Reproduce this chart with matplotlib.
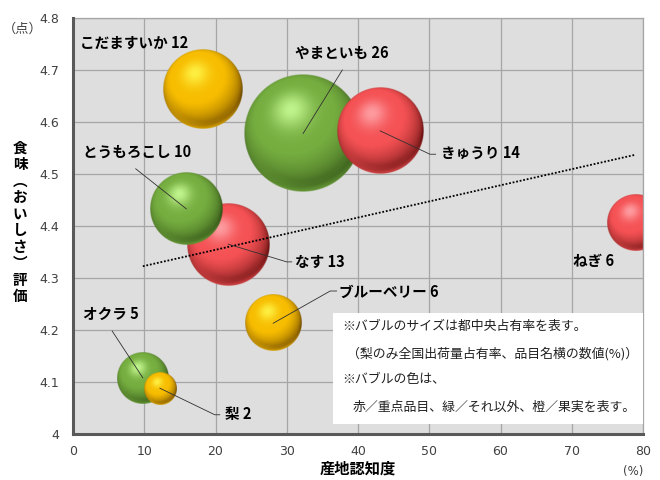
import numpy as np
import matplotlib
matplotlib.use('Agg')
import matplotlib.pyplot as plt
from matplotlib.patches import Rectangle

plt.rcParams['font.family'] = ['Noto Sans CJK JP', 'DejaVu Sans']

# data: 産地認知度(%), 食味評価(点), バブルサイズ(%), 色区分
names = ['こだますいか', 'やまといも', 'きゅうり', 'とうもろこし', 'なす',
         'ブルーベリー', 'ねぎ', 'オクラ', '梨']
recog = [18.2, 32.3, 43.1, 15.9, 21.8, 28.1, 78.9, 9.8, 12.2]
taste = [4.663, 4.578, 4.583, 4.433, 4.365, 4.213, 4.406, 4.108, 4.088]
share = [12, 26, 14, 10, 13, 6, 6, 5, 2]
kind = ['fruit', 'other', 'key', 'other', 'key', 'fruit', 'key', 'other', 'fruit']

# label layout: (text x, text y, leader points)
label_pos = {
    'こだますいか': (1.0, 4.752, None),
    'やまといも': (31.2, 4.733, [(37.8, 4.700)]),
    'きゅうり': (51.6, 4.540, [(50.1, 4.538), (50.9, 4.538)]),
    'とうもろこし': (1.4, 4.542, [(8.8, 4.510)]),
    'なす': (31.2, 4.331, [(30.0, 4.331), (30.7, 4.331)]),
    'ブルーベリー': (37.3, 4.273, [(36.1, 4.275), (37.0, 4.275)]),
    'ねぎ': (70.2, 4.333, None),
    'オクラ': (1.4, 4.231, [(5.5, 4.198)]),
    '梨': (21.3, 4.038, [(19.9, 4.037), (20.6, 4.037)]),
}

# base, highlight, shadow
colors = {
    'key': ((0.96, 0.32, 0.33), (1.0, 0.66, 0.68), (0.42, 0.07, 0.07)),
    'other': ((0.46, 0.68, 0.25), (0.80, 1.0, 0.60), (0.20, 0.33, 0.09)),
    'fruit': ((0.97, 0.74, 0.0), (1.0, 0.97, 0.30), (0.45, 0.30, 0.0)),
}

notes = ['※バブルのサイズは都中央占有率を表す。',
         '（梨のみ全国出荷量占有率、品目名横の数値(%)）',
         '※バブルの色は、',
         '赤／重点品目、緑／それ以外、橙／果実を表す。']


def sphere(base, light, dark, n=240):
    t = np.linspace(-1, 1, n)
    u, v = np.meshgrid(t, t)
    rr = u ** 2 + v ** 2
    r = np.sqrt(rr)
    z = np.sqrt(np.clip(1 - rr, 0, 1))
    L = np.array([-0.2, 0.4, 0.89])
    L = L / np.linalg.norm(L)
    d = np.clip(u * L[0] + v * L[1] + z * L[2], 0, 1)
    base = np.array(base)
    light = np.array(light)
    dark = np.array(dark)
    k = np.clip(d / 0.72, 0, 1) ** 0.75
    col = dark + (base - dark) * k[..., None]
    spec = 0.85 * d ** 18
    col = col + (light - col) * spec[..., None]
    # reflected light on the bottom rim
    rim = np.clip(-v * 1.3 - 0.2, 0, 1) * np.clip((r - 0.8) / 0.18, 0, 1)
    col = col + (base - col) * (0.7 * rim)[..., None]
    alpha = np.clip((1 - r) * n / 2, 0, 1)
    return np.dstack([np.clip(col, 0, 1), alpha])


fig = plt.figure(figsize=(6.6, 4.8), dpi=100)
ax = fig.add_axes([73 / 660, 46 / 480, 570 / 660, 416 / 480])
ax.set_facecolor('#dedede')
ax.set_xlim(0, 80)
ax.set_ylim(4.0, 4.8)
ax.set_xticks(np.arange(0, 81, 10))
yt = np.round(np.arange(4.0, 4.81, 0.1), 1)
ax.set_yticks(yt)
ax.set_yticklabels(['4' if v == 4.0 else '%.1f' % v for v in yt])
ax.tick_params(length=0, labelsize=9, labelcolor='#404040')
ax.tick_params(axis='y', pad=10)
ax.tick_params(axis='x', pad=8)
for lab in ax.get_xticklabels() + ax.get_yticklabels():
    lab.set_family('DejaVu Sans')
ax.grid(True, color='#a6a6a6', lw=0.9)
ax.set_axisbelow(True)
for s in ['top', 'right']:
    ax.spines[s].set_color('#a6a6a6')
    ax.spines[s].set_linewidth(0.9)
for s in ['left', 'bottom']:
    ax.spines[s].set_color('#595959')
    ax.spines[s].set_linewidth(2.2)
    ax.spines[s].set_zorder(6)

bb = ax.get_window_extent()
sx = bb.width / 80
sy = bb.height / 0.8

order = np.argsort(share)[::-1]
for i in order:
    rpx = 11.5 * np.sqrt(share[i])
    rx, ry = rpx / sx, rpx / sy
    img = sphere(*colors[kind[i]])
    ax.imshow(img, extent=(recog[i] - rx, recog[i] + rx, taste[i] - ry, taste[i] + ry),
              origin='lower', aspect='auto', interpolation='bilinear', zorder=2)

# trend line
p = np.polyfit(recog, taste, 1)
xt = np.array([min(recog), max(recog)])
ax.plot(xt, np.polyval(p, xt), color='black', lw=1.3, ls=(0, (1, 1)), zorder=3)

# labels
for i, nm in enumerate(names):
    tx, ty, pts = label_pos[nm]
    ax.text(tx, ty, '%s %d' % (nm, share[i]), fontsize=10.5, fontweight='bold',
            ha='left', va='center', color='black', zorder=5)
    if pts:
        xs = [recog[i]] + [q[0] for q in pts]
        ys = [taste[i]] + [q[1] for q in pts]
        ax.plot(xs, ys, color='#303030', lw=0.6, zorder=4)

# notes box
ax.add_patch(Rectangle((36.5, 4.019), 43.5, 0.214, facecolor='white', edgecolor='none', zorder=4))
note_x = [37.75, 38.4, 37.75, 39.3]
note_y = [4.206, 4.154, 4.104, 4.052]
for t, nx, ny in zip(notes, note_x, note_y):
    ax.text(nx, ny, t, fontsize=9.3, ha='left', va='center', color='#202020', zorder=5)

ax.set_xlim(0, 80)
ax.set_ylim(4.0, 4.8)

# axis titles
fig.text(20 / 660, 1 - 222 / 480, '\n'.join('食味︵おいしさ︶評価'), fontsize=10.5,
         fontweight='bold', ha='center', va='center', linespacing=1.04)
fig.text(358 / 660, 1 - 469 / 480, '産地認知度', fontsize=11, fontweight='bold',
         ha='center', va='center')
fig.text(23 / 660, 1 - 29 / 480, '（点）', fontsize=9.5, color='#404040', ha='center', va='center')
fig.text(633 / 660, 1 - 471 / 480, '(%)', fontsize=8.5, color='#404040', ha='center', va='center',
         family='DejaVu Sans')

fig.savefig('out.png', dpi=100)
